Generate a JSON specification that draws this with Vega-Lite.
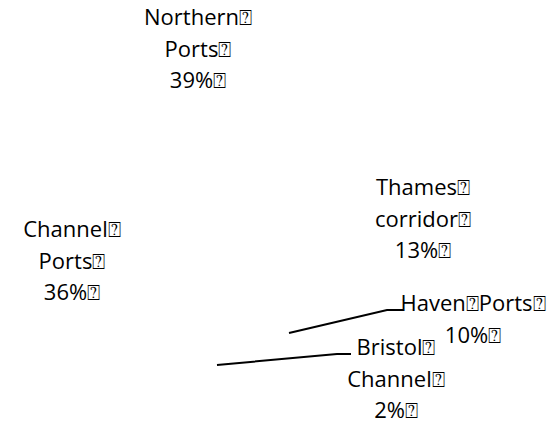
{
  "$schema": "https://vega.github.io/schema/vega-lite/v6.json",
  "width": 549,
  "height": 422,
  "autosize": {"type": "none"},
  "padding": 0,
  "background": "white",
  "config": {"view": {"stroke": null}},
  "datasets": {
    "labels": [
      {"label": "Northern⍰\nPorts⍰\n39%⍰", "x": 198, "y": 25},
      {"label": "Thames⍰\ncorridor⍰\n13%⍰", "x": 423, "y": 195},
      {"label": "Channel⍰\nPorts⍰\n36%⍰", "x": 72, "y": 237},
      {"label": "Haven⍰Ports⍰\n10%⍰", "x": 473, "y": 311},
      {"label": "Bristol⍰\nChannel⍰\n2%⍰", "x": 396, "y": 355}
    ],
    "leaders": [
      {"series": "Haven Ports", "order": 1, "x": 289, "y": 333},
      {"series": "Haven Ports", "order": 2, "x": 387, "y": 310},
      {"series": "Haven Ports", "order": 3, "x": 403, "y": 310},
      {"series": "Bristol Channel", "order": 1, "x": 217, "y": 365},
      {"series": "Bristol Channel", "order": 2, "x": 337, "y": 354},
      {"series": "Bristol Channel", "order": 3, "x": 351, "y": 354}
    ]
  },
  "layer": [
    {
      "data": {"name": "leaders"},
      "mark": {"type": "line", "color": "black", "strokeWidth": 2},
      "encoding": {
        "x": {"field": "x", "type": "quantitative", "scale": {"domain": [0, 549]}, "axis": null},
        "y": {"field": "y", "type": "quantitative", "scale": {"domain": [0, 422], "reverse": true}, "axis": null},
        "detail": {"field": "series"},
        "order": {"field": "order"}
      }
    },
    {
      "data": {"name": "labels"},
      "mark": {"type": "text", "font": "Open Sans", "fontSize": 22, "lineHeight": 31.5, "lineBreak": "\n", "align": "center", "baseline": "alphabetic", "color": "black"},
      "encoding": {
        "x": {"field": "x", "type": "quantitative", "scale": {"domain": [0, 549]}, "axis": null},
        "y": {"field": "y", "type": "quantitative", "scale": {"domain": [0, 422], "reverse": true}, "axis": null},
        "text": {"field": "label"}
      }
    }
  ]
}
